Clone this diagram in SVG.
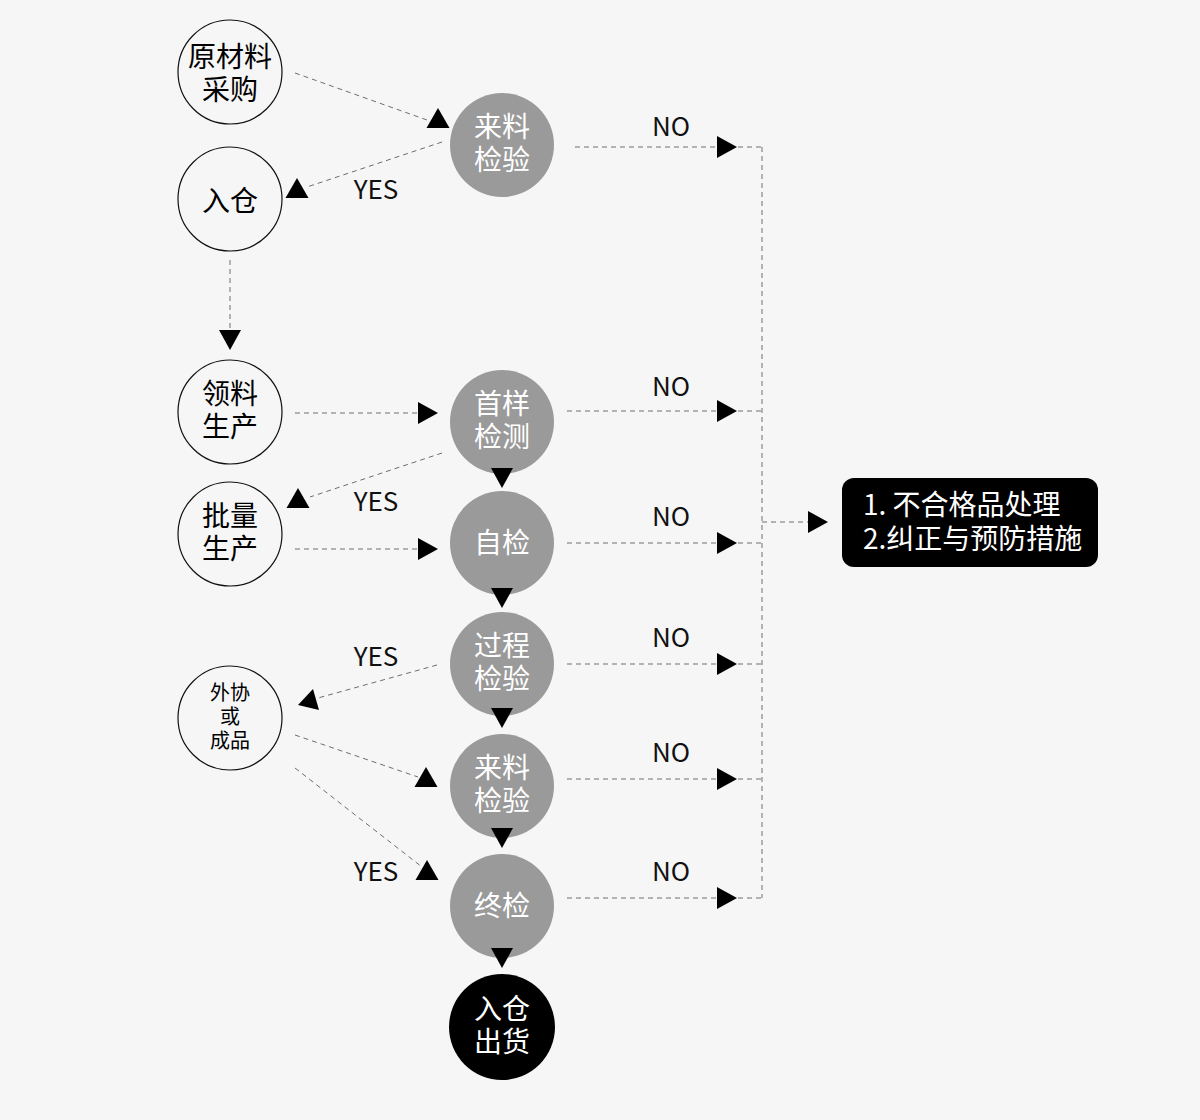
<svg xmlns="http://www.w3.org/2000/svg" xmlns:xlink="http://www.w3.org/1999/xlink" width="1200" height="1120" viewBox="0 0 1200 1120">
<style>
.bg{fill:#f6f6f6}
.wc{fill:#f6f6f6;stroke:#111;stroke-width:1.2}
.gc{fill:#9a9a9a}
.bc{fill:#000}
.t{font-family:"Noto Sans CJK SC","Noto Sans",sans-serif;text-anchor:middle}
.tw{font-size:28px;fill:#000}
.tg{font-size:28px;fill:#fff}
.ts{font-size:20px;fill:#000}
.lbl{font-family:"Noto Sans CJK SC","Noto Sans",sans-serif;font-size:26px;fill:#111;text-anchor:middle}
.bx{font-family:"Noto Sans CJK SC","Noto Sans",sans-serif;font-size:28px;fill:#fff}
.d{fill:none;stroke:#6e6e6e;stroke-width:1;stroke-dasharray:5 4}
.a{fill:#000}
</style>
<defs>
<polygon id="tr" points="0,-11 20,0 0,11"/>
<polygon id="td" points="-11,-20 11,-20 0,0"/>
<polygon id="tu" points="0,-10 -11.5,10 11.5,10"/>
</defs>
<rect class="bg" x="0" y="0" width="1200" height="1120"/>

<g id="connectors">
<path class="d" d="M295,73 L427,120"/>
<path class="d" d="M442,142 L307,187"/>
<path class="d" d="M230,260 L230,328"/>
<path class="d" d="M295,413 L418,413"/>
<path class="d" d="M442,453 L310,497"/>
<path class="d" d="M295,549 L418,549"/>
<path class="d" d="M437,665 L318,698"/>
<path class="d" d="M295,735 L418,777"/>
<path class="d" d="M295,768 L422,867"/>
<path class="d" d="M575,147 L717,147 M738,147 L762,147"/>
<path class="d" d="M567,411 L717,411 M738,411 L762,411"/>
<path class="d" d="M567,543 L717,543 M738,543 L762,543"/>
<path class="d" d="M567,664 L717,664 M738,664 L762,664"/>
<path class="d" d="M567,779 L717,779 M738,779 L762,779"/>
<path class="d" d="M567,898 L717,898 M738,898 L762,898"/>
<path class="d" d="M762,147 L762,898"/>
<path class="d" d="M762,522 L808,522"/>
<use xlink:href="#tu" class="a" x="438" y="118"/>
<use xlink:href="#tu" class="a" x="297" y="188"/>
<use xlink:href="#td" class="a" x="230" y="350"/>
<use xlink:href="#tr" class="a" x="418" y="413"/>
<use xlink:href="#tu" class="a" x="298" y="498"/>
<use xlink:href="#tr" class="a" x="418" y="549"/>
<polygon class="a" points="298,705 313,689 319,710"/>
<use xlink:href="#tu" class="a" x="426" y="777"/>
<use xlink:href="#tu" class="a" x="427" y="870"/>
<use xlink:href="#tr" class="a" x="717" y="147"/>
<use xlink:href="#tr" class="a" x="717" y="411"/>
<use xlink:href="#tr" class="a" x="717" y="543"/>
<use xlink:href="#tr" class="a" x="717" y="664"/>
<use xlink:href="#tr" class="a" x="717" y="779"/>
<use xlink:href="#tr" class="a" x="717" y="898"/>
<use xlink:href="#tr" class="a" x="808" y="522"/>
<text class="lbl" x="376" y="199">YES</text>
<text class="lbl" x="376" y="511">YES</text>
<text class="lbl" x="376" y="666">YES</text>
<text class="lbl" x="376" y="881">YES</text>
<text class="lbl" x="671" y="136">NO</text>
<text class="lbl" x="671" y="396">NO</text>
<text class="lbl" x="671" y="526">NO</text>
<text class="lbl" x="671" y="647">NO</text>
<text class="lbl" x="671" y="762">NO</text>
<text class="lbl" x="671" y="881">NO</text>
</g>

<g id="n-purchase"><circle class="wc" cx="230" cy="72" r="52"/><text class="t tw" x="230" y="67">原材料</text><text class="t tw" x="230" y="100">采购</text></g>
<g id="n-store"><circle class="wc" cx="230" cy="199" r="52"/><text class="t tw" x="230" y="211">入仓</text></g>
<g id="n-pick"><circle class="wc" cx="230" cy="412" r="52"/><text class="t tw" x="230" y="404">领料</text><text class="t tw" x="230" y="437">生产</text></g>
<g id="n-batch"><circle class="wc" cx="230" cy="534" r="52"/><text class="t tw" x="230" y="526">批量</text><text class="t tw" x="230" y="559">生产</text></g>
<g id="n-outsource"><circle class="wc" cx="230" cy="718" r="52"/><text class="t ts" x="230" y="700">外协</text><text class="t ts" x="230" y="724">或</text><text class="t ts" x="230" y="748">成品</text></g>

<g id="n-iqc1"><circle class="gc" cx="502" cy="145" r="52"/><text class="t tg" x="502" y="137">来料</text><text class="t tg" x="502" y="170">检验</text></g>
<g id="n-first"><circle class="gc" cx="502" cy="422" r="52"/><text class="t tg" x="502" y="414">首样</text><text class="t tg" x="502" y="447">检测</text></g>
<g id="n-self"><circle class="gc" cx="502" cy="543" r="52"/><text class="t tg" x="502" y="553">自检</text></g>
<g id="n-process"><circle class="gc" cx="502" cy="664" r="52"/><text class="t tg" x="502" y="656">过程</text><text class="t tg" x="502" y="689">检验</text></g>
<g id="n-iqc2"><circle class="gc" cx="502" cy="786" r="52"/><text class="t tg" x="502" y="778">来料</text><text class="t tg" x="502" y="811">检验</text></g>
<g id="n-final"><circle class="gc" cx="502" cy="906" r="52"/><text class="t tg" x="502" y="916">终检</text></g>
<g id="n-ship"><circle class="bc" cx="502" cy="1027" r="53"/><text class="t tg" x="502" y="1019">入仓</text><text class="t tg" x="502" y="1052">出货</text></g>

<g id="arrows-down">
<use xlink:href="#td" class="a" x="502" y="488"/>
<use xlink:href="#td" class="a" x="502" y="608"/>
<use xlink:href="#td" class="a" x="502" y="728"/>
<use xlink:href="#td" class="a" x="502" y="848"/>
<use xlink:href="#td" class="a" x="502" y="968"/>
</g>

<g id="n-ncr"><rect x="842" y="478" width="256" height="89" rx="12" fill="#000"/><text class="bx" x="863" y="515">1. 不合格品处理</text><text class="bx" x="863" y="549">2.纠正与预防措施</text></g>
</svg>
